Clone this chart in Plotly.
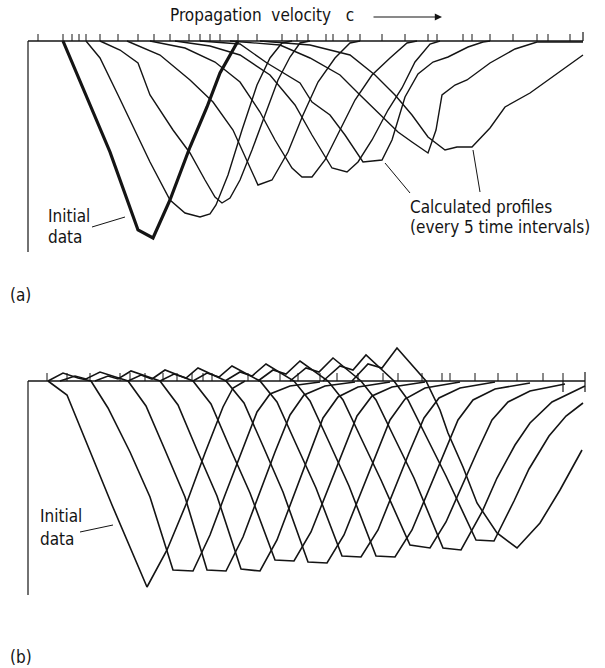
import plotly.graph_objects as go

# ---------------- data: panel (a) ----------------
# distance along the channel and surface level (negative = below the datum)
a1_x = [35, 82, 110, 125, 142, 162, 179, 192, 210]
a1_y = [0, -111, -189, -197, -159, -106, -66, -32, 0]

a2_x = [58, 72, 90, 112, 122, 142, 157, 172, 182, 188, 200, 214, 229, 242, 254, 264]
a2_y = [0, -17, -54, -99, -121, -159, -172, -176, -173, -164, -134, -89, -44, -17, -2, 0]

a3_x = [72, 92, 110, 122, 145, 162, 177, 187, 194, 202, 212, 224, 237, 250, 262, 272, 282]
a3_y = [0, -9, -22, -54, -89, -112, -139, -156, -162, -157, -139, -109, -74, -39, -16, -2, 0]

a4_x = [99, 132, 162, 185, 205, 219, 230, 244, 260, 275, 290, 307, 322, 332]
a4_y = [0, -14, -39, -61, -89, -119, -144, -139, -111, -74, -41, -17, -2, 0]

a5_x = [122, 157, 187, 212, 232, 247, 264, 274, 284, 297, 312, 327, 344, 362, 379, 389]
a5_y = [0, -7, -21, -41, -71, -99, -127, -136, -136, -119, -89, -59, -34, -17, -2, 0]

a6_x = [147, 182, 212, 242, 267, 284, 304, 319, 330, 344, 360, 374, 387, 402, 412]
a6_y = [0, -5, -14, -34, -64, -94, -127, -131, -121, -99, -69, -47, -21, -3, 0]

a7_x = [172, 212, 239, 272, 284, 302, 317, 335, 354, 364, 377, 390, 405, 420, 440, 455, 462]
a7_y = [0, -3, -22, -42, -61, -74, -94, -121, -119, -99, -56, -33, -21, -16, -6, -1, 0]

a8_x = [202, 252, 282, 312, 332, 352, 370, 384, 400, 408, 414, 427, 439, 462, 487, 509, 555]
a8_y = [0, -4, -17, -34, -54, -74, -91, -101, -112, -89, -54, -44, -39, -22, -8, -1, -1]

a9_x = [232, 282, 322, 347, 367, 384, 400, 417, 429, 444, 462, 477, 502, 527, 555]
a9_y = [0, -4, -14, -34, -54, -74, -96, -109, -106, -106, -87, -66, -52, -34, -14]

a_ticks = [10, 35, 44, 51, 58, 72, 90, 110, 126, 142, 161, 172, 182, 192, 210, 229,
           254, 269, 280, 298, 305, 320, 332, 354, 377, 400, 409, 435, 444, 462, 485,
           509, 520, 542]

# ---------------- data: panel (b) ----------------
b0_x = [20, 39, 84, 119, 139, 159, 177, 195, 205, 217]
b0_y = [0, -14, -124, -206, -169, -121, -72, -26, -7, 0]

b1_x = [20, 35, 50, 63, 80, 102, 122, 145, 165, 182, 197, 214, 229, 242, 262, 292]
b1_y = [0, 8, 3, 0, -27, -71, -116, -189, -190, -154, -114, -69, -31, -13, -5, -1]

b2_x = [32, 47, 58, 72, 100, 118, 137, 157, 179, 198, 215, 230, 247, 262, 276, 297, 327]
b2_y = [0, 5, 2, 9, 0, -25, -69, -116, -189, -190, -156, -116, -71, -34, -14, -5, -1]

b3_x = [67, 80, 90, 103, 132, 150, 169, 189, 213, 232, 249, 264, 280, 295, 310, 330, 362]
b3_y = [0, 5, 2, 10, 0, -24, -69, -115, -188, -190, -159, -119, -75, -37, -16, -6, -1]

b4_x = [100, 113, 124, 137, 165, 183, 202, 222, 247, 266, 283, 298, 314, 329, 344, 364, 397]
b4_y = [0, 6, 2, 11, 0, -23, -67, -112, -179, -180, -151, -113, -71, -35, -15, -6, -1]

b5_x = [132, 146, 158, 170, 198, 216, 235, 255, 280, 299, 316, 331, 347, 362, 377, 397, 432]
b5_y = [0, 7, 3, 13, 0, -22, -65, -111, -181, -182, -154, -116, -75, -39, -18, -7, -1]

b6_x = [165, 179, 191, 204, 232, 249, 268, 288, 314, 333, 350, 365, 381, 396, 411, 432, 467]
b6_y = [0, 8, 4, 15, 0, -21, -63, -107, -175, -176, -149, -112, -72, -37, -17, -7, -1]

b7_x = [197, 212, 224, 238, 266, 282, 301, 321, 348, 367, 384, 399, 415, 430, 445, 467, 502]
b7_y = [0, 9, 5, 17, 0, -20, -61, -105, -175, -176, -149, -113, -74, -39, -19, -8, -2]

b8_x = [230, 245, 258, 272, 300, 315, 333, 353, 382, 402, 418, 433, 449, 464, 480, 502, 537]
b8_y = [0, 11, 7, 20, 0, -19, -57, -99, -164, -167, -141, -107, -71, -39, -21, -10, -3]

b9_x = [262, 278, 291, 305, 333, 348, 366, 386, 415, 433, 454, 469, 487, 502, 524, 557]
b9_y = [0, 13, 9, 23, 0, -19, -56, -97, -167, -169, -131, -97, -64, -42, -21, -5]

b10_x = [295, 312, 325, 338, 366, 380, 398, 418, 448, 466, 486, 501, 521, 538, 555]
b10_y = [0, 15, 11, 26, 0, -19, -55, -95, -159, -160, -120, -88, -55, -35, -22]

b11_x = [324, 340, 354, 369, 398, 412, 420, 435, 449, 469, 489, 512, 532, 554]
b11_y = [0, 17, 13, 33, 0, -29, -52, -86, -122, -152, -167, -142, -109, -69]

b_ticks = [19, 39, 62, 92, 102, 117, 135, 149, 164, 175, 184, 220, 252, 270, 292,
           309, 330, 355, 370, 394, 414, 422, 447, 470, 489, 515, 535]

INK = "#141414"
FONT = "Liberation Sans Narrow, DejaVu Sans Condensed, Roboto Condensed, Liberation Sans, sans-serif"

fig = go.Figure()


def add_line(xs, ys, panel, width=1.4):
    fig.add_trace(go.Scatter(
        x=xs, y=ys, mode="lines",
        line=dict(color=INK, width=width),
        xaxis="x" if panel == "a" else "x2",
        yaxis="y" if panel == "a" else "y2",
        hoverinfo="skip", showlegend=False))


def tick_segments(positions, height):
    xs, ys = [], []
    for p in positions:
        xs += [p, p, None]
        ys += [0, height, None]
    return xs, ys


# ---- panel (a) ----
add_line([0, 555], [0, 0], "a", 1.3)
add_line([0, 0], [0, -211], "a", 1.2)
add_line([555, 555], [0, 9], "a", 1.2)
tx, ty = tick_segments(a_ticks, 7)
add_line(tx, ty, "a", 1.0)
for xs, ys in [(a2_x, a2_y), (a3_x, a3_y), (a4_x, a4_y), (a5_x, a5_y),
               (a6_x, a6_y), (a7_x, a7_y), (a8_x, a8_y), (a9_x, a9_y)]:
    add_line(xs, ys, "a", 1.4)
add_line(a1_x, a1_y, "a", 3.2)
# leader lines
add_line([64, 97], [-186, -176], "a", 1.0)
add_line([382, 357], [-152, -122], "a", 1.0)
add_line([452, 445], [-151, -109], "a", 1.0)

# ---- panel (b) ----
add_line([0, 557], [0, 0], "b", 1.3)
add_line([0, 0], [0, -214], "b", 1.2)
add_line([557, 557], [-11, 9], "b", 1.2)
add_line([535, 535], [0, -11], "b", 1.2)
tx, ty = tick_segments(b_ticks, 8)
add_line(tx, ty, "b", 1.0)
for xs, ys in [(b0_x, b0_y), (b1_x, b1_y), (b2_x, b2_y), (b3_x, b3_y),
               (b4_x, b4_y), (b5_x, b5_y), (b6_x, b6_y), (b7_x, b7_y),
               (b8_x, b8_y), (b9_x, b9_y), (b10_x, b10_y), (b11_x, b11_y)]:
    add_line(xs, ys, "b", 1.6)
add_line([52, 85], [-151, -144], "b", 1.0)

txt = dict(color=INK, family=FONT, size=17)
annotations = [
    dict(x=140, y=26, xref="x", yref="y", text="Propagation  velocity   c",
         showarrow=False, xanchor="left", yanchor="middle", font=txt),
    dict(x=414, y=24, xref="x", yref="y", ax=344, ay=24, axref="x", ayref="y",
         text="", showarrow=True, arrowhead=2, arrowsize=1.2, arrowwidth=1.2,
         arrowcolor=INK),
    dict(x=18, y=-175, xref="x", yref="y", text="Initial", showarrow=False,
         xanchor="left", yanchor="middle", font=txt),
    dict(x=18, y=-196, xref="x", yref="y", text="data", showarrow=False,
         xanchor="left", yanchor="middle", font=txt),
    dict(x=380, y=-166, xref="x", yref="y", text="Calculated profiles", showarrow=False,
         xanchor="left", yanchor="middle", font=txt),
    dict(x=380, y=-186, xref="x", yref="y", text="(every 5 time intervals)", showarrow=False,
         xanchor="left", yanchor="middle", font=txt),
    dict(x=-20, y=-254, xref="x", yref="y", text="(a)", showarrow=False,
         xanchor="left", yanchor="middle", font=txt),
    dict(x=10, y=-135, xref="x2", yref="y2", text="Initial", showarrow=False,
         xanchor="left", yanchor="middle", font=txt),
    dict(x=10, y=-158, xref="x2", yref="y2", text="data", showarrow=False,
         xanchor="left", yanchor="middle", font=txt),
    dict(x=-20, y=-276, xref="x2", yref="y2", text="(b)", showarrow=False,
         xanchor="left", yanchor="middle", font=txt),
]

split = 1 - 300 / 668
axis_common = dict(visible=False, fixedrange=True)
fig.update_layout(
    width=605, height=668,
    margin=dict(l=0, r=0, t=0, b=0),
    paper_bgcolor="white", plot_bgcolor="white",
    xaxis=dict(domain=[0, 1], range=[-28, 577], anchor="y", **axis_common),
    yaxis=dict(domain=[split, 1], range=[-259, 41], anchor="x", **axis_common),
    xaxis2=dict(domain=[0, 1], range=[-28, 577], anchor="y2", **axis_common),
    yaxis2=dict(domain=[0, split], range=[-287, 81], anchor="x2", **axis_common),
    annotations=annotations,
)

fig.write_html("out.html")
